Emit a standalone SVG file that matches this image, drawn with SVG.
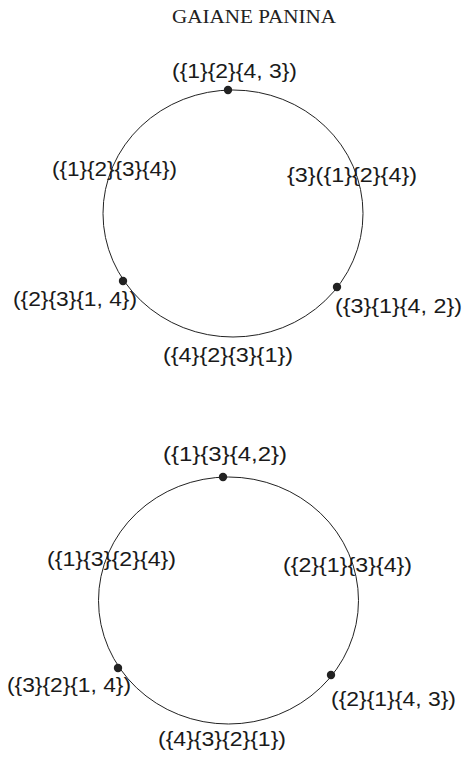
<svg xmlns="http://www.w3.org/2000/svg" width="469" height="760" viewBox="0 0 469 760">
<style>
.ring{fill:none;stroke:#222;stroke-width:1}
.dot{fill:#222}
.lbl{font-family:"Liberation Sans",Arial,sans-serif;font-size:20px;fill:#1a1a1a}
.ttl{font-family:"Liberation Serif","Times New Roman",serif;font-size:18px;fill:#222}
</style>
<rect width="469" height="760" fill="#fff"/>
<text class="ttl" x="172" y="23" textLength="164" lengthAdjust="spacingAndGlyphs">GAIANE PANINA</text>
<g id="circle1">
<ellipse class="ring" cx="233" cy="213.5" rx="130" ry="123.5"/>
</g>
<g id="c1-top"><circle class="dot" cx="228" cy="90" r="4.2"/><text class="lbl" x="172" y="78" textLength="125" lengthAdjust="spacingAndGlyphs">({1}{2}{4, 3})</text></g>
<g id="c1-left"><text class="lbl" x="52" y="176" textLength="125" lengthAdjust="spacingAndGlyphs">({1}{2}{3}{4})</text></g>
<g id="c1-right"><text class="lbl" x="287" y="182" textLength="130" lengthAdjust="spacingAndGlyphs">{3}({1}{2}{4})</text></g>
<g id="c1-bl"><circle class="dot" cx="123" cy="281" r="4.2"/><text class="lbl" x="13" y="306" textLength="124" lengthAdjust="spacingAndGlyphs">({2}{3}{1, 4})</text></g>
<g id="c1-br"><circle class="dot" cx="337" cy="287" r="4.2"/><text class="lbl" x="335" y="313" textLength="127" lengthAdjust="spacingAndGlyphs">({3}{1}{4, 2})</text></g>
<g id="c1-bottom"><text class="lbl" x="163" y="362" textLength="130" lengthAdjust="spacingAndGlyphs">({4}{2}{3}{1})</text></g>
<g id="circle2">
<ellipse class="ring" cx="228.5" cy="600.5" rx="130" ry="123.5"/>
</g>
<g id="c2-top"><circle class="dot" cx="223" cy="477" r="4.2"/><text class="lbl" x="163" y="461" textLength="124" lengthAdjust="spacingAndGlyphs">({1}{3}{4,2})</text></g>
<g id="c2-left"><text class="lbl" x="47" y="566" textLength="129" lengthAdjust="spacingAndGlyphs">({1}{3}{2}{4})</text></g>
<g id="c2-right"><text class="lbl" x="283" y="572" textLength="129" lengthAdjust="spacingAndGlyphs">({2}{1}{3}{4})</text></g>
<g id="c2-bl"><circle class="dot" cx="118" cy="668" r="4.2"/><text class="lbl" x="7" y="692" textLength="124" lengthAdjust="spacingAndGlyphs">({3}{2}{1, 4})</text></g>
<g id="c2-br"><circle class="dot" cx="331" cy="675" r="4.2"/><text class="lbl" x="331" y="706" textLength="125" lengthAdjust="spacingAndGlyphs">({2}{1}{4, 3})</text></g>
<g id="c2-bottom"><text class="lbl" x="158" y="746" textLength="128" lengthAdjust="spacingAndGlyphs">({4}{3}{2}{1})</text></g>
<g id="connectors"></g>
</svg>
